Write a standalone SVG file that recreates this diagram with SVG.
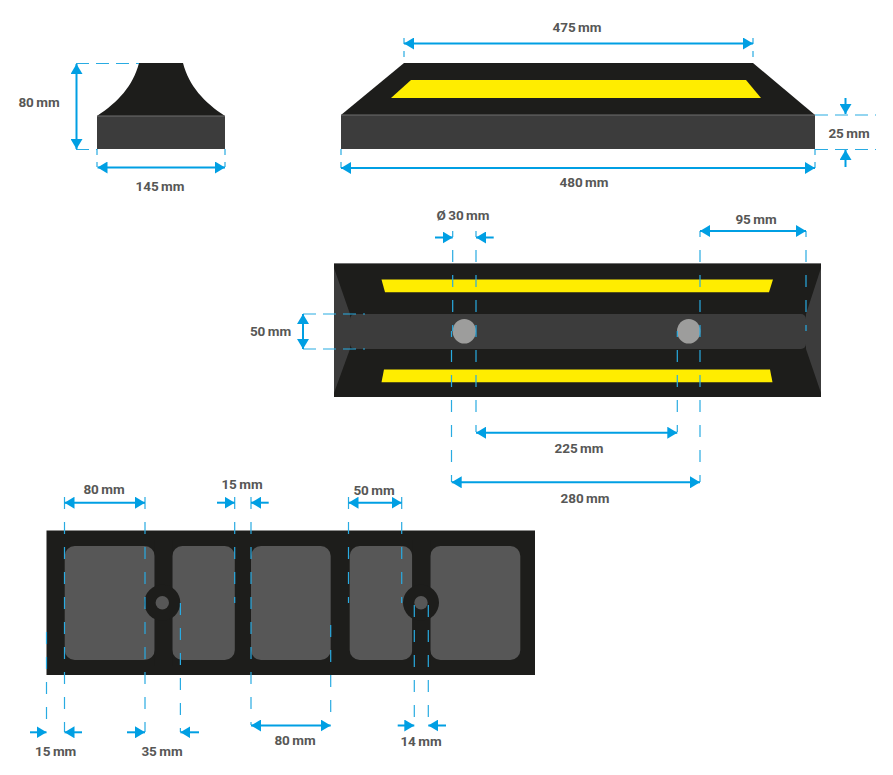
<svg xmlns="http://www.w3.org/2000/svg" width="893" height="775" viewBox="0 0 893 775">
<style>
.blk{fill:#1d1d1b}
.base{fill:#3c3c3c}
.yel{fill:#ffed00}
.pan{fill:#575757}
.hole{fill:#9d9d9c}
.edge{fill:none;stroke:#6f6f6f;stroke-width:1}
.ext{fill:none;stroke:#29abe2;stroke-width:1.2;stroke-dasharray:12 13}
.off{stroke-dashoffset:6}
.long{stroke-dasharray:13 7}
.short{stroke-dasharray:6 7}
.dim{fill:none;stroke:#009fe3;stroke-width:2}
.both{marker-start:url(#ah);marker-end:url(#ah)}
.one{marker-end:url(#ah)}
text{font-family:"Roboto","Liberation Sans",sans-serif;font-weight:700;font-size:13.5px;word-spacing:-1px;fill:#575756;text-anchor:middle}
</style>
<defs>
<marker id="ah" markerUnits="userSpaceOnUse" viewBox="0 0 10 12" refX="10" refY="6" markerWidth="10" markerHeight="12" orient="auto-start-reverse"><path d="M0 0L10 6L0 12z" fill="#009fe3"/></marker>
</defs>

<g id="front-view">
<path class="blk" d="M97 116C118 102 133 86 139 63H183C189 86 204 102 225 116z"/>
<rect class="base" x="97" y="116" width="128" height="33"/>
<path class="edge" d="M97 116H225"/>
</g>

<g id="side-view">
<path class="blk" d="M341 115L404 63H753L815 115z"/>
<path class="yel" d="M411 80H746L761 98H391z"/>
<rect class="base" x="341" y="115" width="474" height="34"/>
<path class="edge" d="M341 115H815"/>
</g>

<g id="top-view">
<rect class="blk" x="334" y="264" width="487" height="133"/>
<path class="edge" d="M334 263.500H821"/>
<path class="base" d="M334 268L350 314V349L334 393z"/>
<path class="base" d="M821 268L806 314V349L821 393z"/>
<rect class="base" x="350" y="314" width="456" height="35" rx="5"/>
<path class="yel" d="M381.500 279.500H773L769 292.300H385z"/>
<path class="yel" d="M384 369.500H770L772.500 382.300H381.500z"/>
<ellipse class="hole" cx="464.300" cy="331.300" rx="11.700" ry="12.300"/>
<ellipse class="hole" cx="688.700" cy="331.300" rx="11.700" ry="12.300"/>
</g>

<g id="bottom-view">
<rect class="blk" x="46.500" y="530.500" width="488.500" height="144.500"/>
<rect class="pan" x="64.700" y="546" width="90" height="114" rx="10"/>
<rect class="pan" x="172.300" y="546" width="62.500" height="114" rx="10"/>
<rect class="pan" x="251" y="546" width="79.700" height="114" rx="10"/>
<rect class="pan" x="349.700" y="546" width="62.600" height="114" rx="10"/>
<rect class="pan" x="430.300" y="546" width="90" height="114" rx="10"/>
<rect class="blk" x="154.700" y="540" width="17.600" height="126"/>
<rect class="blk" x="412.300" y="540" width="18" height="126"/>
<circle class="blk" cx="162.300" cy="602.700" r="18"/>
<circle class="blk" cx="421" cy="602.700" r="18"/>
<circle class="pan" cx="162.300" cy="602.700" r="6.700"/>
<circle class="pan" cx="421" cy="602.700" r="6.700"/>
</g>

<g id="connectors">
<path class="ext long" d="M76 63.500H139M76 149.500H97"/>
<path class="dim both" d="M76.500 64V149"/>
<path class="ext short" d="M97 149V167M225 149V167"/>
<path class="dim both" d="M97.500 167.500H225"/>

<path class="ext short" d="M404 38V63M753 38V63M341 149V168M815 149V168"/>
<path class="dim both" d="M404 43.500H753"/>
<path class="dim both" d="M341 168H815"/>
<path class="ext long" d="M815 115H876M815 149.500H876"/>
<path class="dim one" d="M845.500 98V114"/>
<path class="dim one" d="M845.500 167V150"/>

<path class="ext off" d="M452.700 231V331M476 231V432M700 231V482M806 231V331M451.500 331V482M677.300 331V432"/>
<path class="ext long" d="M303 314H365M303 349H365"/>
<path class="dim one" d="M435 237.500H452.700"/>
<path class="dim one" d="M493.700 237.500H476"/>
<path class="dim both" d="M700 231H806"/>
<path class="dim both" d="M303 314V349"/>
<path class="dim both" d="M476 432.700H677.300"/>
<path class="dim both" d="M451.700 482.300H700"/>

<path class="ext" d="M64.500 497V732M145 497V732M234.700 497V603M251 497V725M348.500 497V603M401.700 497V603M46.500 632V732M180.400 603V732M330.700 625V725M414.300 605V725M428.300 605V725"/>
<path class="dim both" d="M64.500 502.700H145"/>
<path class="dim one" d="M217 502.700H234.700"/>
<path class="dim one" d="M268.700 502.700H251"/>
<path class="dim both" d="M348.500 502.700H401.700"/>
<path class="dim one" d="M30 732.300H46.500"/>
<path class="dim one" d="M82 732.300H64.500"/>
<path class="dim one" d="M127 732.300H145"/>
<path class="dim one" d="M199 732.300H180.400"/>
<path class="dim both" d="M251 725.500H330.700"/>
<path class="dim one" d="M397.700 725.500H414.300"/>
<path class="dim one" d="M446 725.500H428.300"/>
</g>

<g id="labels">
<text x="39" y="107">80 mm</text>
<text x="160" y="191">145 mm</text>
<text x="577" y="32">475 mm</text>
<text x="584" y="187">480 mm</text>
<text x="849" y="138">25 mm</text>
<text x="463" y="220">Ø 30 mm</text>
<text x="756" y="224">95 mm</text>
<text x="270.500" y="336">50 mm</text>
<text x="579" y="453">225 mm</text>
<text x="585" y="503">280 mm</text>
<text x="104" y="494">80 mm</text>
<text x="242" y="489">15 mm</text>
<text x="374" y="495">50 mm</text>
<text x="55.700" y="756">15 mm</text>
<text x="162" y="756">35 mm</text>
<text x="295" y="745">80 mm</text>
<text x="421" y="746">14 mm</text>
</g>
</svg>
